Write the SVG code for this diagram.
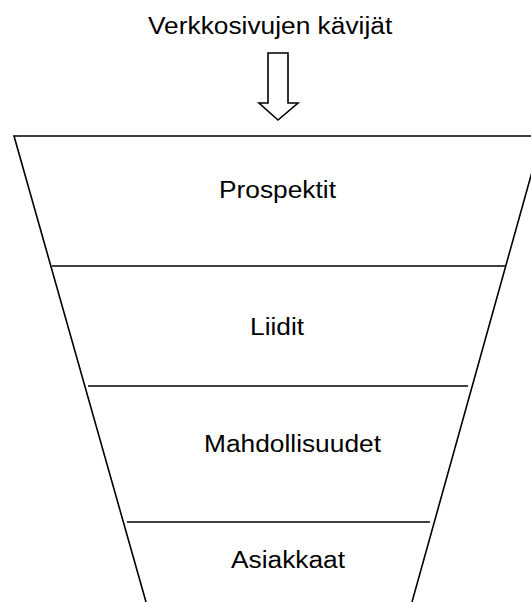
<svg xmlns="http://www.w3.org/2000/svg" width="531" height="602" viewBox="0 0 531 602">
<style>
.ln{stroke:#000;stroke-width:1.6;fill:none}
.t{font-family:"Liberation Sans",Arial,sans-serif;font-size:23.5px;fill:#000}
</style>
<rect width="531" height="602" fill="#fff"/>
<g id="title"><text class="t" transform="translate(148,34) scale(1.12,1)">Verkkosivujen kävijät</text></g>
<g id="connectors">
<path id="arrow" class="ln" d="M268,53 H288 V103 H298 L278,120 L259,103 H268 Z"/>
</g>
<g id="funnel">
<path class="ln" d="M146,602 L14,136 H542 L412,602"/>
</g>
<g id="prospektit">
<text class="t" transform="translate(219,198) scale(1.12,1)">Prospektit</text>
</g>
<g id="liidit">
<line class="ln" x1="52" y1="266" x2="505" y2="266"/>
<text class="t" transform="translate(250,335) scale(1.12,1)">Liidit</text>
</g>
<g id="mahdollisuudet">
<line class="ln" x1="88" y1="386" x2="468" y2="386"/>
<text class="t" transform="translate(204,452) scale(1.12,1)">Mahdollisuudet</text>
</g>
<g id="asiakkaat">
<line class="ln" x1="127" y1="522" x2="430" y2="522"/>
<text class="t" transform="translate(231,568) scale(1.12,1)">Asiakkaat</text>
</g>
</svg>
